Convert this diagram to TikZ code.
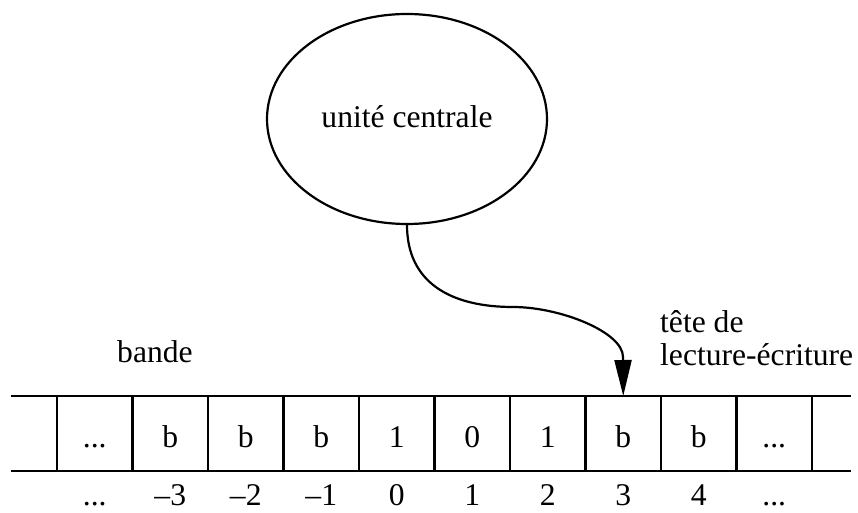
\documentclass[tikz,border=0pt]{standalone}
\usepackage{fontspec}
\setmainfont{Liberation Serif}
\usetikzlibrary{shapes.geometric,arrows.meta}
\newcommand{\tpdots}{...}
\tikzset{
  lw/.style={line width=2.2pt},
  txt/.style={font=\fontsize{31.6}{38}\selectfont, inner sep=0pt},
  cell/.style={draw, lw, minimum width=75.5pt, minimum height=75pt, inner sep=0pt, outer sep=0pt},
  conn/.style={lw, -{Triangle[length=36pt,width=17pt]}}
}
\begin{document}
\begin{tikzpicture}[x=1pt,y=-1pt]
\useasboundingbox (0,0) rectangle (858,513);
\clip (0,0) rectangle (858,513);
% central unit
\node[ellipse, draw, lw, minimum width=280pt, minimum height=210pt, inner sep=0pt] (cpu) at (407,119) {};
\node[txt, anchor=base] (cpulabel) at (407,128) {unité centrale};
% tape cells
\foreach \i in {0,...,9} {
  \node[cell] (cell\i) at ({94.75+75.5*\i},433.5) {};
}
\coordinate (tl) at (11,396);
\coordinate (bl) at (11,471);
\coordinate (tr) at (851,396);
\coordinate (br) at (851,471);
\draw[lw] (tl) -- (cell0.north west);
\draw[lw] (bl) -- (cell0.south west);
\draw[lw] (cell9.north east) -- (tr);
\draw[lw] (cell9.south east) -- (br);
% cell contents
\foreach \i/\t in {0/\tpdots,1/b,2/b,3/b,4/1,5/0,6/1,7/b,8/b,9/\tpdots} {
  \node[txt, anchor=base] (v\i) at ({94.75+75.5*\i},447.5) {\t};
}
% indices
\foreach \i/\t in {0/\tpdots,1/\textendash3,2/\textendash2,3/\textendash1,4/0,5/1,6/2,7/3,8/4,9/\tpdots} {
  \node[txt, anchor=base] (n\i) at ({94.75+75.5*\i},505) {\t};
}
% labels
\node[txt, anchor=base west] (bande) at (117,362) {bande};
\node[txt, anchor=base west] (tete1) at (660,332) {tête de};
\node[txt, anchor=base west] (tete2) at (660,365) {lecture-écriture};
% head arrow
\coordinate (head) at (cell7.north);
\coordinate (mid) at (513,307);
\coordinate (pre) at (623,357);
\draw[conn] (cpu.south) .. controls +(0,57) and (450,307) .. (mid)
  .. controls (560,307) and (623,332) .. (pre) -- (head);
\end{tikzpicture}
\end{document}
